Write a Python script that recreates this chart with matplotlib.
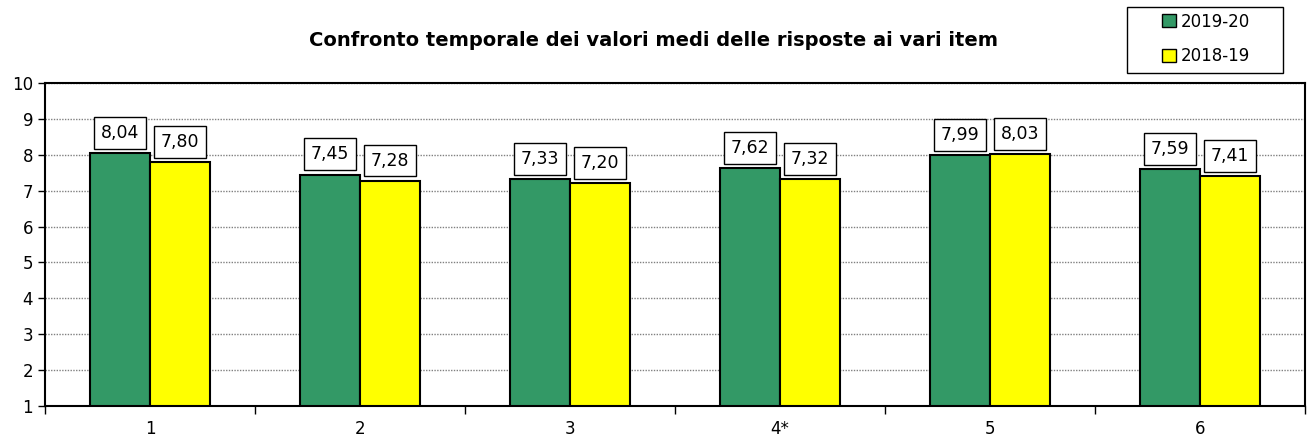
import matplotlib
matplotlib.use("Agg")
import matplotlib.pyplot as plt
import numpy as np
from matplotlib.patches import Patch, Rectangle

categories = ["1", "2", "3", "4*", "5", "6"]
values_2019_20 = [8.04, 7.45, 7.33, 7.62, 7.99, 7.59]
values_2018_19 = [7.80, 7.28, 7.20, 7.32, 8.03, 7.41]
labels_2019_20 = ["8,04", "7,45", "7,33", "7,62", "7,99", "7,59"]
labels_2018_19 = ["7,80", "7,28", "7,20", "7,32", "8,03", "7,41"]
series_names = ["2019-20", "2018-19"]
colors = ["#339966", "#FFFF00"]

fig = plt.figure(figsize=(13.07, 4.38), dpi=100)
ax = fig.add_axes([45/1307, 1-406/438, (1305-45)/1307, (406-83)/438])

x = np.arange(len(categories))
w = 0.286
ax.bar(x - w/2, np.array(values_2019_20) - 1, w, bottom=1, color=colors[0], edgecolor="black", linewidth=1.5, zorder=3)
ax.bar(x + w/2, np.array(values_2018_19) - 1, w, bottom=1, color=colors[1], edgecolor="black", linewidth=1.5, zorder=3)

box = dict(boxstyle="square,pad=0.4", facecolor="white", edgecolor="black", linewidth=1)
for xi, v, lab in zip(x - w/2, values_2019_20, labels_2019_20):
    ax.text(xi, v + 0.56, lab, ha="center", va="center", fontsize=12.5, bbox=box, zorder=4)
for xi, v, lab in zip(x + w/2, values_2018_19, labels_2018_19):
    ax.text(xi, v + 0.56, lab, ha="center", va="center", fontsize=12.5, bbox=box, zorder=4)

ax.set_xlim(-0.5, len(categories) - 0.5)
ax.set_ylim(1, 10)
ax.set_yticks(range(1, 11))
ax.tick_params(axis="y", labelsize=12, direction="out", length=5, width=1)
ax.set_xticks(np.arange(-0.5, len(categories), 1.0))
ax.set_xticklabels([])
ax.set_xticks(x, minor=True)
ax.set_xticklabels(categories, minor=True, fontsize=12)
ax.tick_params(axis="x", which="major", direction="out", length=6, width=1)
ax.tick_params(axis="x", which="minor", length=0, pad=10)
ax.grid(axis="y", color="#808080", linestyle=(0, (1, 1)), linewidth=1, zorder=0)
for s in ax.spines.values():
    s.set_linewidth(1.5)

fig.text(0.5, 1-40/438, "Confronto temporale dei valori medi delle risposte ai vari item",
         ha="center", va="center", fontsize=14, fontweight="bold")

# legend frame
fig.patches.append(Rectangle((1127/1307, 1-73/438), 156/1307, 66/438, transform=fig.transFigure,
                             facecolor="white", edgecolor="black", linewidth=1, zorder=1))
handles = [Patch(facecolor=colors[0], edgecolor="black"), Patch(facecolor=colors[1], edgecolor="black")]
leg = fig.legend(handles, series_names, loc="center", bbox_to_anchor=(1206/1307, 1-39/438),
                 fontsize=12, frameon=False,
                 handlelength=0.8, handleheight=0.8, handletextpad=0.3, labelspacing=1.0,
                 borderpad=0.2, borderaxespad=0)
leg.set_zorder(5)

fig.savefig("out.png", dpi=100)
